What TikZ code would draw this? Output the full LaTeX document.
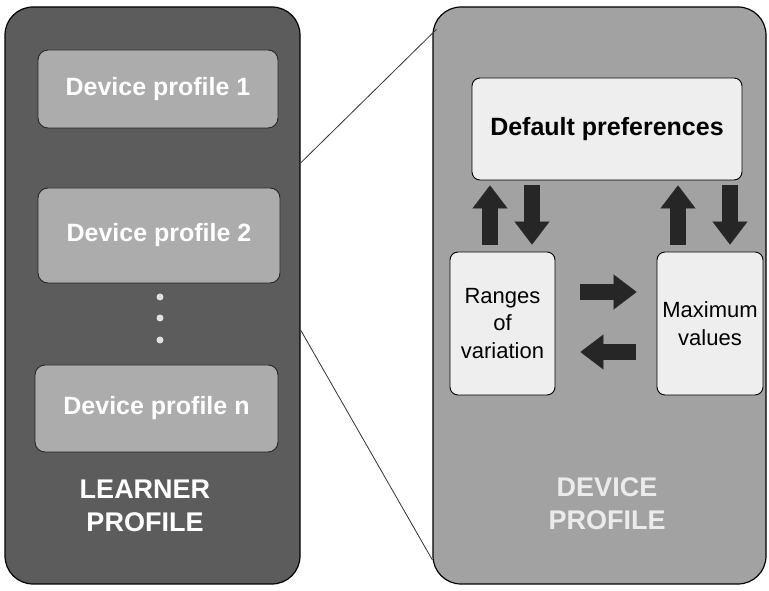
\documentclass[tikz,border=0pt]{standalone}
\usepackage{fontspec}
\setmainfont{Liberation Sans}
\usetikzlibrary{arrows.meta}
\definecolor{lpfill}{RGB}{92,92,92}
\definecolor{dpfill}{RGB}{172,172,172}
\definecolor{rpfill}{RGB}{162,162,162}
\definecolor{wfill}{RGB}{238,238,238}
\definecolor{arrowc}{RGB}{38,38,38}
\begin{document}
\begin{tikzpicture}[x=1pt,y=1pt,
  panel/.style={draw=black, line width=1.2pt, rounded corners=28pt, inner sep=0pt},
  dpbox/.style={draw=black!85, line width=0.9pt, fill=dpfill, rounded corners=10pt,
    inner sep=0pt, text=white, font=\bfseries\fontsize{25}{30}\selectfont},
  wbox/.style={draw=black, line width=0.9pt, fill=wfill, rounded corners=8pt,
    inner sep=0pt, align=center},
  paneltitle/.style={text=white, align=center, font=\bfseries\fontsize{27}{33}\selectfont},
  dotnode/.style={circle, fill=white!88!black, minimum size=7pt, inner sep=0pt},
  blk/.style={draw=arrowc, line width=16pt,
    -{Triangle[width=35pt,length=23pt,line width=0.1pt]}},
  zoomline/.style={draw=black!80, line width=0.8pt}
]
\useasboundingbox (0,0) rectangle (769,591);

% panels
\node[panel, fill=lpfill, minimum width=295pt, minimum height=577pt] (lp) at (152.5,295.5) {};
\node[panel, fill=rpfill, minimum width=333pt, minimum height=577pt] (rp) at (599.5,295.5) {};

% left panel content
\node[dpbox, minimum width=240pt, minimum height=78pt] (dp1) at (158,502) {Device profile 1};
\node[dpbox, minimum width=242pt, minimum height=95pt] (dp2) at (159,355.5) {Device profile 2};
\node[dpbox, minimum width=243pt, minimum height=87pt] (dpn) at (156.5,182.5) {Device profile n};
\node[dotnode] (d1) at (160,294) {};
\node[dotnode] (d2) at (160,273) {};
\node[dotnode] (d3) at (160,251) {};
\node[paneltitle] (lt) at (145,85) {LEARNER\\PROFILE};

% right panel content
\node[wbox, minimum width=270pt, minimum height=102pt,
  font=\bfseries\fontsize{25}{30}\selectfont] (dpref) at (607,462) {Default preferences};
\node[wbox, minimum width=105pt, minimum height=143pt,
  font=\fontsize{22}{27.5}\selectfont] (rv) at (502.5,267.5) {Ranges\\of\\variation};
\node[wbox, minimum width=106pt, minimum height=143pt,
  font=\fontsize{22}{27.5}\selectfont] (mv) at (710,267.5) {Maximum\\values};
\node[paneltitle, text=white!92!black] (rt) at (607,87) {DEVICE\\PROFILE};

% vertical block arrows
\draw[blk, shorten <=7pt, shorten >=5pt]
  ([xshift=-12.5pt]rv.north) -- ([xshift=-12.5pt]rv.north |- dpref.south);
\draw[blk, shorten <=5pt, shorten >=7pt]
  ([xshift=29.5pt]rv.north |- dpref.south) -- ([xshift=29.5pt]rv.north);
\draw[blk, shorten <=7pt, shorten >=5pt]
  ([xshift=-32pt]mv.north) -- ([xshift=-32pt]mv.north |- dpref.south);
\draw[blk, shorten <=5pt, shorten >=7pt]
  ([xshift=20pt]mv.north |- dpref.south) -- ([xshift=20pt]mv.north);

% horizontal block arrows
\draw[blk, shorten <=25pt, shorten >=20pt]
  ([yshift=31.5pt]rv.east) -- ([yshift=31.5pt]rv.east -| mv.west);
\draw[blk, shorten <=21pt, shorten >=25pt]
  ([yshift=-28.5pt]rv.east -| mv.west) -- ([yshift=-28.5pt]rv.east);

% zoom lines
\coordinate (za) at ([yshift=132.5pt]lp.east);
\coordinate (zb) at ([shift={(4pt,-23pt)}]rp.north west);
\coordinate (zc) at ([yshift=-34.5pt]lp.east);
\coordinate (zd) at ([yshift=-264.5pt]rp.west);
\draw[zoomline] (za) -- (zb);
\draw[zoomline] (zc) -- (zd);
\end{tikzpicture}
\end{document}
